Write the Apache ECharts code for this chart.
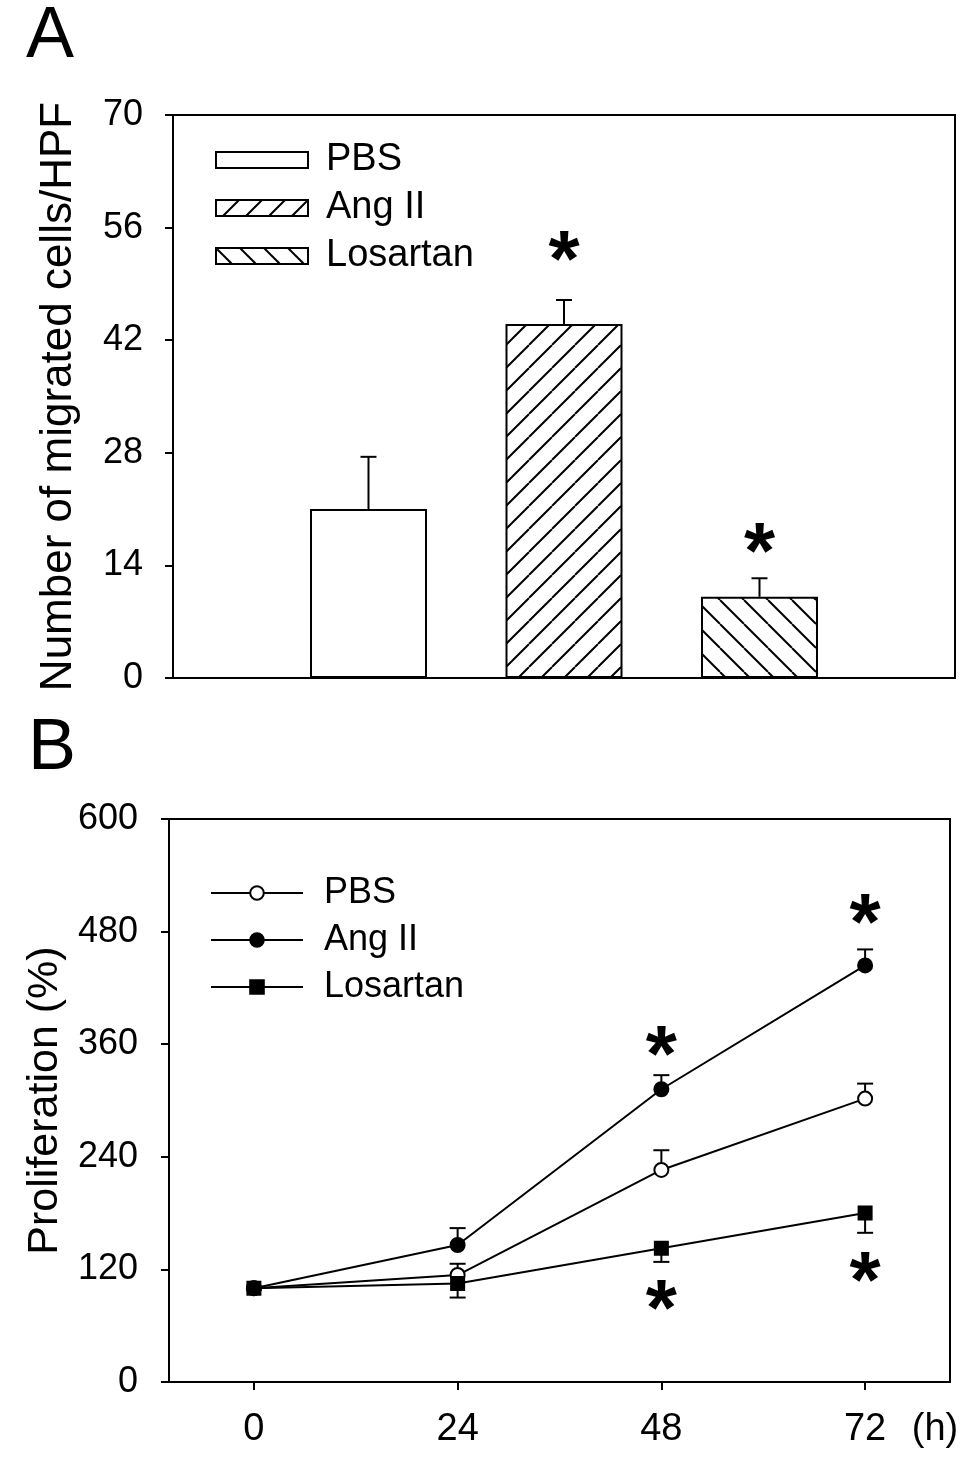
<!DOCTYPE html>
<html>
<head>
<meta charset="utf-8">
<script src="https://cdn.jsdelivr.net/npm/echarts@6/dist/echarts.min.js"></script>
<style>
html,body{margin:0;padding:0;background:#fff;}
#chart{width:971px;height:1467px;}
</style>
</head>
<body>
<div id="chart"></div>
<script>
// ---------- Panel A data ----------
const barCategories = ['PBS', 'Ang II', 'Losartan'];
const barMeans = [21.0, 44.0, 10.1];
const barErrors = [6.5, 3.0, 2.3];
const barStarValues = [null, 53.8, 17.5];
const barYTicks = [0, 14, 28, 42, 56, 70];

// ---------- Panel B data ----------
const hours = [0, 24, 48, 72];
const lineSeriesNames = ['PBS', 'Ang II', 'Losartan'];
const pbsMeans = [100, 114, 226, 302];
const pbsErrors = [0, 12, 21, 16];       // drawn upward
const angMeans = [100, 146, 312, 444];
const angErrors = [0, 18, 15, 17];       // drawn upward
const losMeans = [100, 105, 142.5, 180];
const losErrors = [0, 15, 14.5, 21];     // drawn downward
const lineStarHours = [48, 72, 48, 72];
const lineStarValues = [364, 505, 93, 123];
const lineYTicks = [0, 120, 240, 360, 480, 600];

const FONT = "'Liberation Sans', Arial, Helvetica, sans-serif";
const B_SUFFIX = ' (B)';

function hatch(dir, s) {
  const c = document.createElement('canvas');
  c.width = s; c.height = s;
  const g = c.getContext('2d');
  g.fillStyle = '#fff';
  g.fillRect(0, 0, s, s);
  g.strokeStyle = '#000';
  g.lineWidth = 2;
  g.beginPath();
  for (let k = -1; k <= 1; k++) {
    if (dir === '/') { g.moveTo(k * s, s); g.lineTo(k * s + s, 0); }
    else { g.moveTo(k * s, 0); g.lineTo(k * s + s, s); }
  }
  g.stroke();
  return c;
}

const barFills = [
  '#ffffff',
  { image: hatch('/', 23), repeat: 'repeat' },
  { image: hatch('\\', 24), repeat: 'repeat' }
];

const barSeries = barCategories.map((name, i) => ({
  name: name,
  type: 'bar',
  xAxisIndex: 0, yAxisIndex: 0,
  barWidth: 117,
  barGap: '-100%',
  data: [[i + 1, barMeans[i]]],
  itemStyle: { color: barFills[i], borderColor: '#000', borderWidth: 2 },
  emphasis: { disabled: true },
  z: 3
}));

function errorRender(dirSign) {
  return function (params, api) {
    const x = api.value(0), y = api.value(1), e = api.value(2);
    if (!e) return null;
    const p0 = api.coord([x, y]);
    const p1 = api.coord([x, y + dirSign * e]);
    const st = { stroke: '#000', lineWidth: 2 };
    return {
      type: 'group',
      children: [
        { type: 'line', shape: { x1: p0[0], y1: p0[1], x2: p1[0], y2: p1[1] }, style: st },
        { type: 'line', shape: { x1: p1[0] - 8, y1: p1[1], x2: p1[0] + 8, y2: p1[1] }, style: st }
      ]
    };
  };
}

function starRender(params, api) {
  const p = api.coord([api.value(0), api.value(1)]);
  const F = 80;
  return {
    type: 'text',
    x: p[0], y: p[1] + 0.23 * F,
    style: {
      text: '*', fontSize: F, fontWeight: 'bold', fontFamily: FONT,
      fill: '#000', align: 'center', verticalAlign: 'middle'
    }
  };
}

const barErrData = barCategories.map((c, i) => [i + 1, barMeans[i], barErrors[i]]);
const barStarData = barCategories.map((c, i) => [i + 1, barStarValues[i]]).filter(d => d[1] != null);

const lineDefs = [
  { name: lineSeriesNames[0], means: pbsMeans, errs: pbsErrors, dir: 1, symbol: 'circle', size: 14, fill: '#fff' },
  { name: lineSeriesNames[1], means: angMeans, errs: angErrors, dir: 1, symbol: 'circle', size: 14, fill: '#000' },
  { name: lineSeriesNames[2], means: losMeans, errs: losErrors, dir: -1, symbol: 'rect', size: 13, fill: '#000' }
];

const lineSeries = [];
lineDefs.forEach(d => {
  lineSeries.push({
    name: d.name + ' err',
    type: 'custom',
    xAxisIndex: 1, yAxisIndex: 1,
    renderItem: errorRender(d.dir),
    data: hours.map((h, i) => [h, d.means[i], d.errs[i]]),
    z: 1,
    silent: true
  });
});
lineDefs.forEach(d => {
  lineSeries.push({
    name: d.name + B_SUFFIX,
    type: 'line',
    xAxisIndex: 1, yAxisIndex: 1,
    data: hours.map((h, i) => [h, d.means[i]]),
    symbol: d.symbol,
    symbolSize: d.size,
    showSymbol: true,
    lineStyle: { color: '#000', width: 2 },
    itemStyle: { color: d.fill, borderColor: '#000', borderWidth: 2 },
    emphasis: { disabled: true },
    animation: false,
    z: 3
  });
});

const labelStyle = { color: '#000', fontFamily: FONT };

const option = {
  animation: false,
  backgroundColor: '#fff',
  title: [
    { text: 'A', left: 26, top: 1, padding: 0, textStyle: { fontSize: 72, fontWeight: 'normal', color: '#000', fontFamily: FONT } },
    { text: 'B', left: 28, top: 713, padding: 0, textStyle: { fontSize: 72, fontWeight: 'normal', color: '#000', fontFamily: FONT } }
  ],
  legend: [
    {
      data: barCategories,
      orient: 'vertical',
      left: 215, top: 140,
      padding: 0,
      itemWidth: 92, itemHeight: 16, itemGap: 8,
      icon: 'rect',
      selectedMode: false,
      textStyle: { fontSize: 38, lineHeight: 40, color: '#000', fontFamily: FONT, padding: [0, 0, 0, 13] }
    },
    {
      data: lineSeriesNames.map(n => n + B_SUFFIX),
      formatter: n => n.slice(0, n.length - B_SUFFIX.length),
      orient: 'vertical',
      left: 210, top: 873,
      padding: 0,
      itemWidth: 92, itemHeight: 17, itemGap: 7,
      selectedMode: false,
      textStyle: { fontSize: 36, lineHeight: 40, color: '#000', fontFamily: FONT, padding: [0, 0, 0, 16] }
    }
  ],
  grid: [
    { left: 173, top: 115, width: 782, height: 563, show: true, borderColor: '#000', borderWidth: 2, backgroundColor: 'transparent' },
    { left: 169, top: 819, width: 781, height: 563, show: true, borderColor: '#000', borderWidth: 2, backgroundColor: 'transparent' }
  ],
  xAxis: [
    {
      gridIndex: 0, type: 'value', min: 0, max: 4,
      axisLine: { show: true, onZero: false, lineStyle: { color: '#000', width: 2 } },
      axisTick: { show: false }, axisLabel: { show: false }, splitLine: { show: false }
    },
    {
      gridIndex: 1, type: 'value', min: -10, max: 82,
      name: '(h)', nameLocation: 'end', nameGap: -15,
      nameTextStyle: { fontSize: 38, color: '#000', fontFamily: FONT, align: 'center', verticalAlign: 'top', padding: [29, 0, 0, 0] },
      axisLine: { show: true, onZero: false, lineStyle: { color: '#000', width: 2 } },
      axisTick: { show: true, inside: false, length: 8, customValues: hours, lineStyle: { color: '#000', width: 2 } },
      axisLabel: { show: true, customValues: hours, margin: 29, fontSize: 38, ...labelStyle },
      splitLine: { show: false }
    }
  ],
  yAxis: [
    {
      gridIndex: 0, type: 'value', min: 0, max: 70, interval: 14,
      name: 'Number of migrated cells/HPF', nameLocation: 'middle', nameGap: 92,
      nameTextStyle: { fontSize: 44, color: '#000', fontFamily: FONT },
      axisLine: { show: true, onZero: false, lineStyle: { color: '#000', width: 2 } },
      axisTick: { show: true, length: 8, lineStyle: { color: '#000', width: 2 } },
      axisLabel: { margin: 30, fontSize: 36, ...labelStyle },
      splitLine: { show: false }
    },
    {
      gridIndex: 1, type: 'value', min: 0, max: 600, interval: 120,
      name: 'Proliferation (%)', nameLocation: 'middle', nameGap: 94,
      nameTextStyle: { fontSize: 43, color: '#000', fontFamily: FONT },
      axisLine: { show: true, onZero: false, lineStyle: { color: '#000', width: 2 } },
      axisTick: { show: true, length: 8, lineStyle: { color: '#000', width: 2 } },
      axisLabel: { margin: 31, fontSize: 36, ...labelStyle },
      splitLine: { show: false }
    }
  ],
  series: [
    {
      name: 'bar err', type: 'custom', xAxisIndex: 0, yAxisIndex: 0,
      renderItem: errorRender(1), data: barErrData, z: 1, silent: true
    },
    ...barSeries,
    {
      name: 'bar stars', type: 'custom', xAxisIndex: 0, yAxisIndex: 0,
      renderItem: starRender, data: barStarData, z: 5, silent: true
    },
    ...lineSeries,
    {
      name: 'line stars', type: 'custom', xAxisIndex: 1, yAxisIndex: 1,
      renderItem: starRender, data: lineStarHours.map((h, i) => [h, lineStarValues[i]]), z: 5, silent: true
    }
  ]
};

const chart = echarts.init(document.getElementById('chart'), null, { renderer: 'canvas' });
chart.setOption(option);
</script>
</body>
</html>
